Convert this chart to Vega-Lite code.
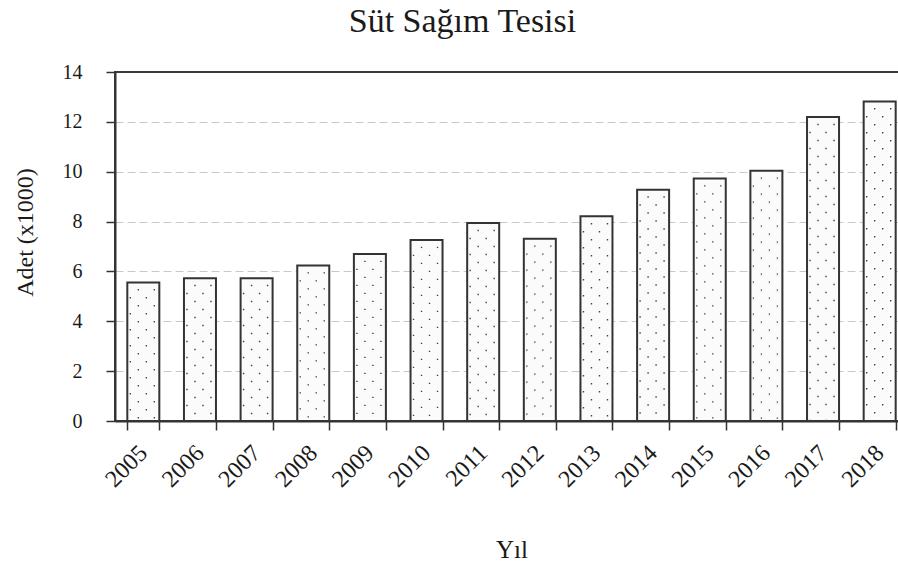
{
  "$schema": "https://vega.github.io/schema/vega-lite/v6.json",
  "autosize": "none",
  "padding": {"left": 115, "top": 72, "right": -10, "bottom": 145},
  "width": 793,
  "height": 349,
  "background": "white",
  "title": {
    "text": "Süt Sağım Tesisi",
    "font": "Liberation Serif",
    "fontSize": 34,
    "fontWeight": "normal",
    "color": "#1a1a1a",
    "anchor": "middle",
    "dx": -49,
    "baseline": "alphabetic",
    "offset": -4
  },
  "config": {
    "view": {"stroke": "#3a3a3a", "strokeWidth": 2},
    "axis": {
      "labelFont": "Liberation Serif",
      "titleFont": "Liberation Serif",
      "labelColor": "#1a1a1a",
      "titleColor": "#1a1a1a",
      "titleFontWeight": "normal",
      "domainColor": "#333333",
      "domainWidth": 2,
      "tickColor": "#333333",
      "tickWidth": 1.5,
      "tickSize": 9
    }
  },
  "data": {
    "values": [
      {"yil": "2005", "adet": 5.56},
      {"yil": "2006", "adet": 5.73},
      {"yil": "2007", "adet": 5.73},
      {"yil": "2008", "adet": 6.24},
      {"yil": "2009", "adet": 6.70},
      {"yil": "2010", "adet": 7.26},
      {"yil": "2011", "adet": 7.94},
      {"yil": "2012", "adet": 7.31},
      {"yil": "2013", "adet": 8.21},
      {"yil": "2014", "adet": 9.28},
      {"yil": "2015", "adet": 9.73},
      {"yil": "2016", "adet": 10.04},
      {"yil": "2017", "adet": 12.19},
      {"yil": "2018", "adet": 12.82}
    ]
  },
  "encoding": {
    "x": {
      "field": "yil",
      "type": "ordinal",
      "scale": {"paddingInner": 0.435, "paddingOuter": 0.2175},
      "axis": {
        "title": "Yıl",
        "titleFontSize": 25,
        "titleY": 136,
        "titleBaseline": "alphabetic",
        "labelAngle": -45,
        "labelAlign": "right",
        "labelBaseline": "middle",
        "labelFontSize": 24,
        "labelPadding": 19,
        "tickBand": "extent",
        "grid": false
      }
    },
    "y": {
      "field": "adet",
      "type": "quantitative",
      "scale": {"domain": [0, 14], "nice": false},
      "axis": {
        "title": "Adet (x1000)",
        "titleFontSize": 24,
        "titleX": -83,
        "titleY": 160,
        "titleAngle": 270,
        "titleAlign": "center",
        "titleBaseline": "alphabetic",
        "values": [0, 2, 4, 6, 8, 10, 12, 14],
        "labelFontSize": 20,
        "labelPadding": 24,
        "grid": true,
        "gridColor": {"condition": {"test": "datum.value >= 14 || datum.value <= 0", "value": "transparent"}, "value": "#c8c8c8"},
        "gridDash": [8, 4],
        "gridWidth": 1
      }
    }
  },
  "layer": [
    {
      "mark": {"type": "bar", "fill": "#fbfbfb", "stroke": "#333333", "strokeWidth": 2}
    },
    {
      "mark": {"type": "rule", "xOffset": -13, "color": "#444444", "strokeWidth": 1.4, "strokeDash": [1.4, 14.6], "strokeDashOffset": 1.3},
      "encoding": {"y2": {"datum": 0}}
    },
    {
      "mark": {"type": "rule", "xOffset": -5, "color": "#444444", "strokeWidth": 1.4, "strokeDash": [1.4, 14.6], "strokeDashOffset": 9.3},
      "encoding": {"y2": {"datum": 0}}
    },
    {
      "mark": {"type": "rule", "xOffset": 3, "color": "#444444", "strokeWidth": 1.4, "strokeDash": [1.4, 14.6], "strokeDashOffset": 1.3},
      "encoding": {"y2": {"datum": 0}}
    },
    {
      "mark": {"type": "rule", "xOffset": 11, "color": "#444444", "strokeWidth": 1.4, "strokeDash": [1.4, 14.6], "strokeDashOffset": 9.3},
      "encoding": {"y2": {"datum": 0}}
    }
  ]
}
